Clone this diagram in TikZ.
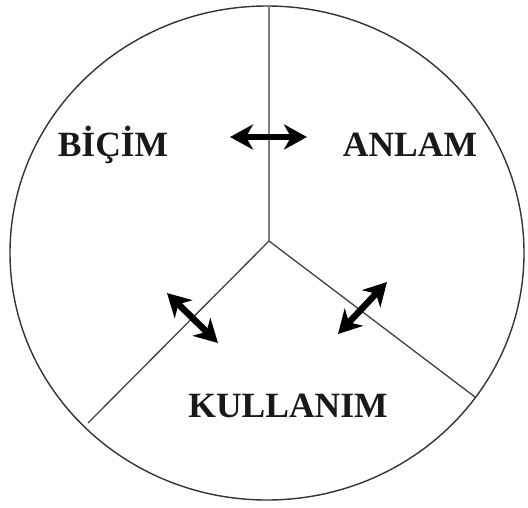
\documentclass[tikz,border=0pt]{standalone}
\usepackage{fontspec}
\setmainfont{Liberation Serif}
\usetikzlibrary{arrows.meta}
\begin{document}
\begin{tikzpicture}[x=1pt,y=-1pt,
  rim/.style={draw=black!80, line width=1.4pt},
  spoke/.style={draw=black!75, line width=1.3pt},
  vspoke/.style={draw=black!50, line width=1.5pt},
  link/.style={draw=black, line width=6.5pt, {Stealth[length=23pt,width=25pt,inset=7pt]}-{Stealth[length=23pt,width=25pt,inset=7pt]}},
  lbl/.style={font=\fontsize{35.5}{40}\selectfont\bfseries, text=black!90, inner sep=0pt}]
\useasboundingbox (0,0) rectangle (528,507);
\coordinate (c) at (267,253);
\coordinate (o) at (269,241);
\coordinate (t) at (269,6);
\coordinate (l) at (88,423);
\coordinate (r) at (475,397);
\draw[rim] (c) ellipse [x radius=257pt, y radius=247pt];
\draw[vspoke] (o) -- (t);
\draw[spoke] (o) -- (l);
\draw[spoke] (o) -- (r);
\node[lbl] (bicim) at (113,145) {BİÇİM};
\node[lbl] (anlam) at (410,145) {ANLAM};
\node[lbl] (kullanim) at (288,406) {KULLANIM};
\coordinate (a1) at (230,137);
\coordinate (a2) at (307,137);
\coordinate (b1) at (167,293);
\coordinate (b2) at (218,343);
\coordinate (d1) at (338,334);
\coordinate (d2) at (387,282);
\draw[link] (a1) -- (a2);
\draw[link] (b1) -- (b2);
\draw[link] (d1) -- (d2);
\end{tikzpicture}
\end{document}
